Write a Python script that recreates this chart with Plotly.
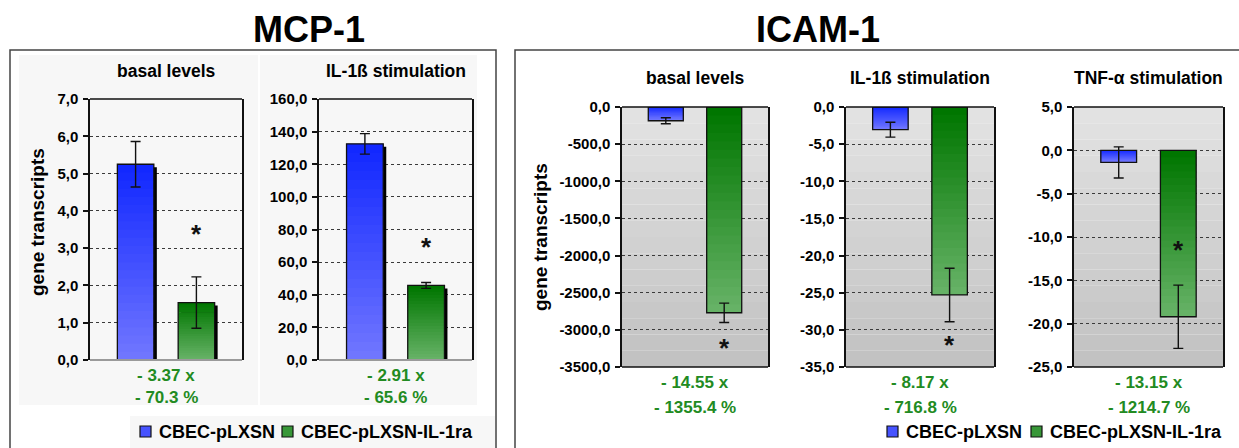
import plotly.graph_objects as go

W, H = 1239, 448
FONT = "Liberation Sans, Arial, sans-serif"

# ---- data ----
categories = ["CBEC-pLXSN", "CBEC-pLXSN-IL-1ra"]

mcp_basal = [5.25, 1.54]
mcp_basal_err = [0.61, 0.69]
mcp_il1b = [132.5, 45.7]
mcp_il1b_err = [6.3, 1.8]

icam_basal = [-185.0, -2770.0]
icam_basal_err = [40.0, 130.0]
icam_il1b = [-3.05, -25.3]
icam_il1b_err = [1.0, 3.6]
icam_tnf = [-1.4, -19.2]
icam_tnf_err = [1.8, 3.65]

panel_titles = ["basal levels", "IL-1ß stimulation",
                "basal levels", "IL-1ß stimulation", "TNF-α stimulation"]
fold_labels = ["- 3.37 x", "- 2.91 x", "- 14.55 x", "- 8.17 x", "- 13.15 x"]
pct_labels = ["- 70.3 %", "- 65.6 %", "- 1355.4 %", "- 716.8 %", "- 1214.7 %"]
star_values = [3.4, 70.0, -3230.0, -31.9, -11.4]

# ---- panel layout (pixels) ----
panels = [
    dict(v=mcp_basal, e=mcp_basal_err, yr=(0, 7), dt=1, box=(90, 99, 242, 360), mcp=True),
    dict(v=mcp_il1b, e=mcp_il1b_err, yr=(0, 160), dt=20, box=(319, 99, 472, 360), mcp=True),
    dict(v=icam_basal, e=icam_basal_err, yr=(-3500, 0), dt=500, box=(622, 107, 768, 367), mcp=False),
    dict(v=icam_il1b, e=icam_il1b_err, yr=(-35, 0), dt=5, box=(846, 107, 994, 367), mcp=False),
    dict(v=icam_tnf, e=icam_tnf_err, yr=(-25, 5), dt=5, box=(1074, 107, 1223, 367), mcp=False),
]

BLUE_TOP, BLUE_BOT = (18, 40, 255), (112, 118, 255)
GREEN_TOP, GREEN_BOT = (0, 118, 0), (102, 178, 102)
BAR_W = 0.6
XR = (-0.75, 1.75)
NSEG = 24


def mix(c0, c1, t):
    return "rgb(%d,%d,%d)" % tuple(round(a + (b - a) * t) for a, b in zip(c0, c1))


def px_x(x):
    return x / W


def px_y(y):
    return 1 - y / H


fig = go.Figure()
shapes = []
annotations = []

for i, p in enumerate(panels):
    n = "" if i == 0 else str(i + 1)
    xa, ya = "x" + n, "y" + n
    x0, y0, x1, y1 = p["box"]
    y_lo, y_hi = p["yr"]
    span = y_hi - y_lo
    nt = int(round(span / p["dt"])) + 1

    fig.update_layout({
        "xaxis" + n: dict(domain=[px_x(x0), px_x(x1)], range=list(XR), type="category",
                          categoryorder="array", categoryarray=categories,
                          showticklabels=False, showgrid=False, showline=False,
                          zeroline=False, ticks="", fixedrange=True, anchor=ya,
                          automargin=False),
        "yaxis" + n: dict(domain=[px_y(y1), px_y(y0)], range=[y_lo, y_hi], anchor=xa,
                          tickvals=[y_lo + k * p["dt"] for k in range(nt)],
                          ticktext=[("%.1f" % (y_lo + k * p["dt"])).replace(".", ",")
                                    for k in range(nt)],
                          showgrid=True, gridcolor="#3a3a3a", griddash="dot", gridwidth=1,
                          zeroline=False, showline=True, linecolor="#111", linewidth=1.5,
                          mirror=True, ticks="outside", ticklen=5, tickcolor="#111",
                          tickwidth=1.5, ticklabelstandoff=2, automargin=False,
                          tickfont=dict(family=FONT, size=15, color="black", weight="bold"),
                          fixedrange=True),
    })

    # plot-area gradient background (banded like the original)
    nb = 16
    for k in range(nb):
        shapes.append(dict(type="rect", xref=xa + " domain", yref=ya + " domain",
                           x0=0, x1=1, y0=1 - (k + 1) / nb, y1=1 - k / nb,
                           fillcolor=mix((226, 226, 226), (194, 194, 194), k / (nb - 1)),
                           line=dict(width=0), layer="below"))

    # 3D shadow behind MCP-1 bars
    if p["mcp"]:
        dx = 3.0 / (x1 - x0) * (XR[1] - XR[0])
        drop = 3.0 / (y1 - y0) * span
        fig.add_trace(go.Bar(x=categories, y=[v - drop for v in p["v"]], width=BAR_W,
                             offset=-BAR_W / 2 + dx, marker=dict(color="black", line_width=0),
                             xaxis=xa, yaxis=ya, showlegend=False, hoverinfo="skip"))

    # gradient filled bars, made of slices (dark at top, light at bottom)
    for j, (cat, v) in enumerate(zip(categories, p["v"])):
        top, bot = max(0, v), min(0, v)
        seg = (top - bot) / NSEG
        ext = [0.3 * seg if s < NSEG - 1 else 0 for s in range(NSEG)]
        c0, c1 = (BLUE_TOP, BLUE_BOT) if j == 0 else (GREEN_TOP, GREEN_BOT)
        fig.add_trace(go.Bar(x=[cat] * NSEG, y=[seg + ext[s] for s in range(NSEG)],
                             base=[top - (s + 1) * seg - ext[s] for s in range(NSEG)],
                             width=BAR_W,
                             marker=dict(color=[mix(c0, c1, s / (NSEG - 1)) for s in range(NSEG)],
                                         line_width=0),
                             xaxis=xa, yaxis=ya, showlegend=False, hoverinfo="skip"))

    # bar outlines
    fig.add_trace(go.Bar(x=categories, y=p["v"], width=BAR_W,
                         marker=dict(color="rgba(0,0,0,0)", line=dict(color="#111", width=1.3)),
                         xaxis=xa, yaxis=ya, showlegend=False, hoverinfo="skip"))

    # error bars
    fig.add_trace(go.Scatter(x=categories, y=p["v"], mode="markers",
                             marker=dict(size=1, color="rgba(0,0,0,0)"),
                             error_y=dict(type="data", array=p["e"], color="#111",
                                          thickness=1.4, width=5),
                             xaxis=xa, yaxis=ya, showlegend=False, hoverinfo="skip"))

    # top / bottom frame lines
    shapes.append(dict(type="line", xref=xa + " domain", yref=ya + " domain",
                       x0=0, x1=1, y0=1, y1=1, line=dict(color="#111", width=1.5)))
    shapes.append(dict(type="line", xref=xa + " domain", yref=ya + " domain",
                       x0=0, x1=1, y0=0, y1=0,
                       line=dict(color="#9a9a9a" if p["mcp"] else "#111",
                                 width=2 if p["mcp"] else 1.5)))

    # significance star
    annotations.append(dict(xref=xa, yref=ya, x=categories[1], y=star_values[i], text="*",
                            showarrow=False, yanchor="middle", yshift=-1,
                            font=dict(family=FONT, size=26, color="#111", weight="bold")))

    # panel subtitle
    sub_y = 71 if p["mcp"] else 78
    annotations.append(dict(xref=xa + " domain", yref="paper", x=0.5, y=px_y(sub_y),
                            text=panel_titles[i], showarrow=False, yanchor="middle",
                            font=dict(family=FONT, size=17.5, color="black", weight="bold")))

    # fold change text
    ly = (375, 397) if p["mcp"] else (382, 407)
    for txt, yy in zip((fold_labels[i], pct_labels[i]), ly):
        annotations.append(dict(xref=xa + " domain", yref="paper", x=0.5, y=px_y(yy),
                                text=txt, showarrow=False, yanchor="middle",
                                font=dict(family=FONT, size=17, color="#228b22", weight="bold")))

# outer boxes and light panels
shapes.extend([
    dict(type="rect", xref="paper", yref="paper", x0=px_x(19), x1=px_x(258),
         y0=px_y(405), y1=px_y(55), fillcolor="#f7f7f7", line=dict(width=0), layer="below"),
    dict(type="rect", xref="paper", yref="paper", x0=px_x(260), x1=px_x(477),
         y0=px_y(405), y1=px_y(55), fillcolor="#f7f7f7", line=dict(width=0), layer="below"),
    dict(type="rect", xref="paper", yref="paper", x0=px_x(130), x1=px_x(495),
         y0=px_y(452), y1=px_y(416), fillcolor="#f7f7f7", line=dict(width=0), layer="below"),
    dict(type="rect", xref="paper", yref="paper", x0=px_x(10), x1=px_x(496),
         y0=px_y(460), y1=px_y(50), line=dict(color="#444", width=1.5), layer="above"),
    dict(type="rect", xref="paper", yref="paper", x0=px_x(515), x1=px_x(1250),
         y0=px_y(460), y1=px_y(50), line=dict(color="#444", width=1.5), layer="above"),
])

# main titles and y axis titles
annotations.append(dict(xref="paper", yref="paper", x=px_x(251), y=px_y(30), text="MCP-1",
                        showarrow=False, yanchor="middle",
                        font=dict(family=FONT, size=36, color="black", weight="bold")))
annotations.append(dict(xref="paper", yref="paper", x=px_x(882), y=px_y(29), text="ICAM-1",
                        showarrow=False, yanchor="middle",
                        font=dict(family=FONT, size=36, color="black", weight="bold")))
for xx, yy in ((37, 222), (541, 237)):
    annotations.append(dict(xref="paper", yref="paper", x=px_x(xx), y=px_y(yy),
                            text="gene transcripts", textangle=-90, showarrow=False,
                            xanchor="center", yanchor="middle",
                            font=dict(family=FONT, size=19, color="black", weight="bold")))

# legends (drawn by hand to match the compact original)
legend_items = [
    (140, 157, categories[0], BLUE_TOP, BLUE_BOT),
    (282, 299, categories[1], GREEN_TOP, GREEN_BOT),
    (887, 904, categories[0], BLUE_TOP, BLUE_BOT),
    (1031, 1048, categories[1], GREEN_TOP, GREEN_BOT),
]
for sx, tx, name, c0, c1 in legend_items:
    shapes.append(dict(type="rect", xref="paper", yref="paper", x0=px_x(sx), x1=px_x(sx + 11),
                       y0=px_y(437), y1=px_y(426), fillcolor=mix(c0, c1, 0.55),
                       line=dict(color="#111", width=1.2)))
    annotations.append(dict(xref="paper", yref="paper", x=px_x(tx), y=px_y(432), text=name,
                            xanchor="left", yanchor="middle", showarrow=False,
                            font=dict(family=FONT, size=18, color="black", weight="bold")))

fig.update_layout(
    width=W, height=H, margin=dict(l=0, r=0, t=0, b=0, autoexpand=False),
    paper_bgcolor="white", plot_bgcolor="rgba(0,0,0,0)",
    barmode="overlay", showlegend=False,
    shapes=shapes, annotations=annotations,
)

fig.write_html("out.html", config={"displayModeBar": False},
               post_script="document.body.style.margin='0px';")
